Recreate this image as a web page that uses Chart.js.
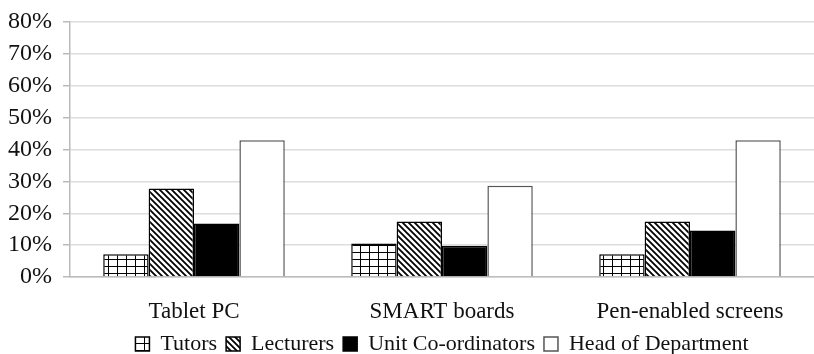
<!DOCTYPE html>
<html lang="en">
<head>
  <meta charset="UTF-8">
  <title>Technology use by role</title>
  <script src="https://cdn.jsdelivr.net/npm/chart.js"></script>
  <style>
    html, body { margin: 0; padding: 0; background: #fff; }
    #wrap { width: 814px; height: 354px; }
  </style>
</head>
<body>
  <div id="wrap"><canvas id="myChart" width="814" height="354"></canvas></div>
  <script>
    // values (percent)
    const categories = ['Tablet PC', 'SMART boards', 'Pen-enabled screens'];
    const seriesNames = ['Tutors', 'Lecturers', 'Unit Co-ordinators', 'Head of Department'];
    const tutors = [7.1, 10.5, 7.1];
    const lecturers = [27.8, 17.4, 17.4];
    const unitCoordinators = [16.8, 9.8, 14.6];
    const headOfDept = [42.9, 28.6, 42.9];
    const yTicks = [0, 10, 20, 30, 40, 50, 60, 70, 80];

    // fill patterns like the print-style original
    function gridPattern() {
      const c = document.createElement('canvas');
      c.width = 9; c.height = 7;
      const g = c.getContext('2d');
      g.fillStyle = '#fff';
      g.fillRect(0, 0, 9, 7);
      g.fillStyle = '#000';
      g.fillRect(0, 0, 9, 1);
      g.fillRect(0, 0, 1, 7);
      return g.createPattern(c, 'repeat');
    }

    function stripePattern() {
      const s = 6;
      const c = document.createElement('canvas');
      c.width = s; c.height = s;
      const g = c.getContext('2d');
      g.fillStyle = '#fff';
      g.fillRect(0, 0, s, s);
      g.strokeStyle = '#000';
      g.lineWidth = 1.8;
      g.beginPath();
      g.moveTo(-1, -1); g.lineTo(s + 1, s + 1);
      g.moveTo(-1, s - 1); g.lineTo(1, s + 1);
      g.moveTo(s - 1, -1); g.lineTo(s + 1, 1);
      g.stroke();
      return g.createPattern(c, 'repeat');
    }

    const family = '"Liberation Serif", "Times New Roman", serif';
    const font = { family: family, size: 23 };

    const ctx = document.getElementById('myChart').getContext('2d');
    new Chart(ctx, {
      type: 'bar',
      data: {
        labels: categories,
        datasets: [
          { label: seriesNames[0], data: tutors, backgroundColor: gridPattern(), borderColor: '#000', borderWidth: 1.5 },
          { label: seriesNames[1], data: lecturers, backgroundColor: stripePattern(), borderColor: '#000', borderWidth: 1.5 },
          { label: seriesNames[2], data: unitCoordinators, backgroundColor: '#000', borderColor: '#000', borderWidth: 1.5 },
          { label: seriesNames[3], data: headOfDept, backgroundColor: '#fff', borderColor: '#555', borderWidth: 1.5 }
        ]
      },
      options: {
        responsive: false,
        animation: false,
        // the original is cropped on the right, so the plot runs past the edge
        layout: { padding: { top: 22, right: -10, left: 0, bottom: -11 } },
        datasets: { bar: { categoryPercentage: 0.732, barPercentage: 1.0 } },
        plugins: {
          legend: {
            position: 'bottom',
            fullSize: false,
            labels: {
              font: { family: family, size: 22 },
              color: '#111',
              boxWidth: 14,
              boxHeight: 14,
              padding: 9
            }
          },
          tooltip: { enabled: false }
        },
        scales: {
          x: {
            grid: { display: false },
            border: { color: '#bbb', width: 1.5 },
            ticks: { font: font, color: '#111', padding: 13 },
            afterFit: axis => { axis.height = 47; }
          },
          y: {
            min: 0,
            max: 80,
            afterBuildTicks: axis => { axis.ticks = yTicks.map(v => ({ value: v })); },
            afterFit: axis => { axis.width = 70; axis.paddingTop = 0; },
            grid: { color: '#ddd', lineWidth: 1.5, tickLength: 7, tickColor: '#bbb' },
            border: { color: '#bbb', width: 1.5 },
            ticks: { font: { family: family, size: 24 }, color: '#111', padding: 11, autoSkip: false, callback: v => v + '%' }
          }
        }
      }
    });
  </script>
</body>
</html>
